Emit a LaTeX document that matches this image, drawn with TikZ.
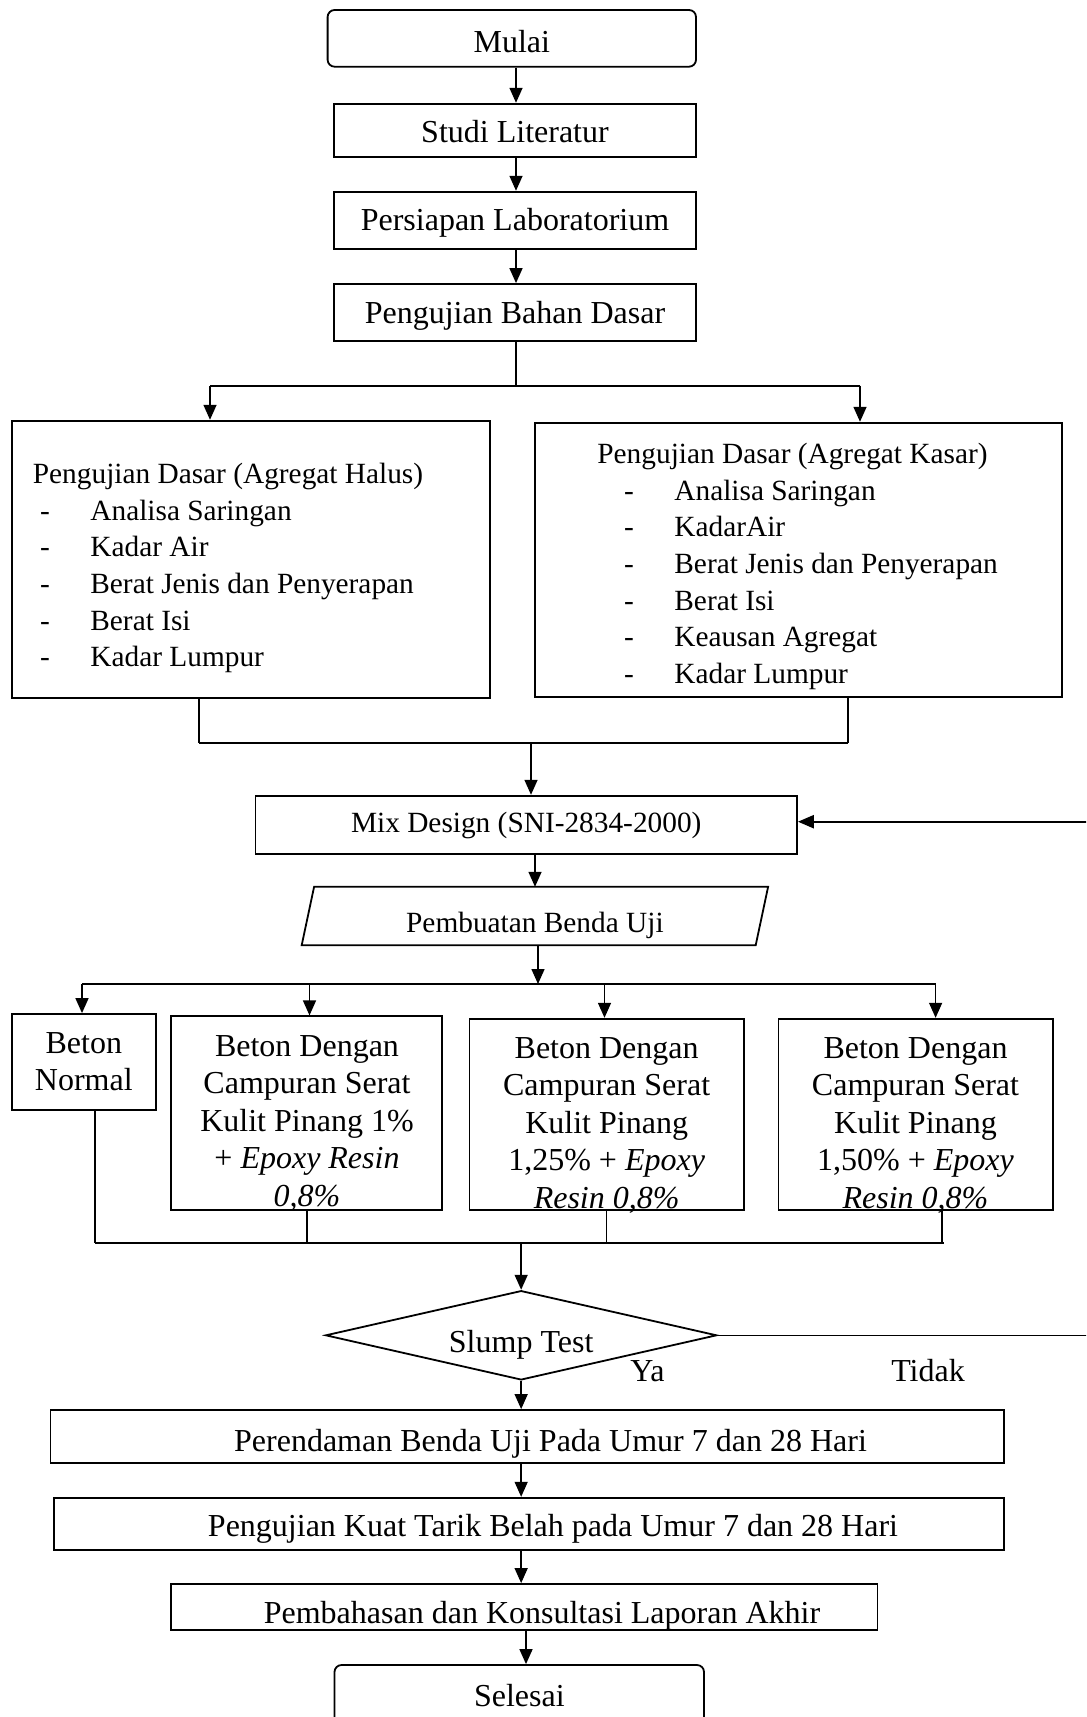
\documentclass[tikz,border=0pt]{standalone}
\usepackage{fontspec}
\setmainfont{Liberation Serif}
\usetikzlibrary{arrows.meta,shapes.geometric,calc}
\newcommand\fbig{\fontsize{16pt}{18.75pt}\selectfont}
\newcommand\fsmall{\fontsize{14.67pt}{18.35pt}\selectfont}
\begin{document}
\begin{tikzpicture}[x=0.5pt,y=-0.5pt,
  sz/.style 2 args={minimum width=#1*0.5pt, minimum height=#2*0.5pt},
  box/.style={draw, line width=0.9pt, inner sep=0pt, font=\fbig, text depth=0pt, text height=10.6pt},
  sbox/.style={box, font=\fsmall, text height=9.7pt},
  th/.style={text height=#1},
  arr/.style={line width=0.75pt, -{Triangle[length=7.5pt,width=6.5pt]}},
  ln/.style={line width=0.75pt},
  bl/.style={line width=0.9pt},
  txt/.style={inner sep=0pt, font=\fbig},
  stxt/.style={inner sep=0pt, font=\fsmall},
]
\clip (0,0) rectangle (1086,1717);
\fill[white] (0,0) rectangle (1086,1717);

% top chain
\node[box, rounded corners=3.5pt, sz={368.4}{56.7}, th=14pt] (mulai) at (511.8,38.35) {Mulai};
\node[box, sz={362}{53.3}, th=12.5pt] (studi) at (515,130.35) {Studi Literatur};
\node[box, sz={362}{57.3}, th=10.6pt] (lab) at (515,220.35) {Persiapan Laboratorium};
\node[box, sz={362}{56.7}, th=11.3pt] (dasar) at (515,312.35) {Pengujian Bahan Dasar};

% two test boxes
\node[box, sz={478.2}{277.6}] (halus) at (250.9,559.5) {};
\node[box, sz={527}{274}] (kasar) at (798.5,559.7) {};

\node[stxt, anchor=base west] (hh) at (32.5,483.3) {Pengujian Dasar (Agregat Halus)};
\foreach \t [count=\i] in {Analisa Saringan, Kadar Air, Berat Jenis dan Penyerapan, Berat Isi, Kadar Lumpur}{
  \node[stxt, anchor=base] (hd\i) at (45,{483.3+\i*36.7}) {-};
  \node[stxt, anchor=base west] (hi\i) at (90,{483.3+\i*36.7}) {\t};
}
\node[stxt, anchor=base west] (kh) at (597,463.3) {Pengujian Dasar (Agregat Kasar)};
\foreach \t [count=\i] in {Analisa Saringan, KadarAir, Berat Jenis dan Penyerapan, Berat Isi, Keausan Agregat, Kadar Lumpur}{
  \node[stxt, anchor=base] (kd\i) at (629,{463.3+\i*36.7}) {-};
  \node[stxt, anchor=base west] (ki\i) at (674,{463.3+\i*36.7}) {\t};
}

% mix design and specimen
\node[sbox, sz={541.5}{58.3}, th=8.1pt] (mix) at (526.25,824.85) {Mix Design (SNI-2834-2000)};
\node[sbox, draw=none, sz={452.2}{56.6}, th=16.2pt] (buat) at (534.9,916) {Pembuatan Benda Uji};
\draw[bl] ($(buat.north west)+(6.2,0)$) -- ($(buat.north east)+(6.2,0)$) -- ($(buat.south east)+(-6.2,0)$) -- ($(buat.south west)+(-6.2,0)$) -- cycle;

% concrete variants
\node[box, sz={144}{96}] (normal) at (83.8,1062) {};
\node[txt, anchor=base] (n1) at (83.8,1053.3) {Beton};
\node[txt, anchor=base] (n2) at (83.8,1090) {Normal};

\node[box, sz={271}{193.7}] (b2) at (306.5,1113.15) {};
\foreach \t [count=\i] in {Beton Dengan, Campuran Serat, Kulit Pinang 1\%, {+ \textit{Epoxy Resin}}, {\textit{0,8\%}}}
  \node[txt, anchor=base] (bt2\i) at (307,{1018.5+\i*37.5}) {\t};

\node[box, sz={274.3}{191.3}] (b3) at (606.65,1114.35) {};
\foreach \t [count=\i] in {Beton Dengan, Campuran Serat, Kulit Pinang, {1,25\% + \textit{Epoxy}}, {\textit{Resin 0,8\%}}}
  \node[txt, anchor=base] (bt3\i) at (606.65,{1020.8+\i*37.5}) {\t};

\node[box, sz={274.2}{191.3}] (b4) at (915.5,1114.35) {};
\foreach \t [count=\i] in {Beton Dengan, Campuran Serat, Kulit Pinang, {1,50\% + \textit{Epoxy}}, {\textit{Resin 0,8\%}}}
  \node[txt, anchor=base] (bt4\i) at (915.5,{1020.8+\i*37.5}) {\t};

% decision
\node[draw, bl, shape=diamond, aspect=4.38, inner sep=0pt, sz={391.3}{89.3}, font=\fbig, text height=17pt, text depth=0pt] (slump) at (521.15,1335.3) {Slump Test};
\node[txt, anchor=base] (ya) at (647.5,1381.7) {Ya};
\node[txt, anchor=base] (tidak) at (928,1381.7) {Tidak};

% bottom chain
\node[box, sz={953.5}{52.7}] (rendam) at (527.25,1436.35) {};
\node[txt, anchor=base] (rendamt) at (550.5,1451.7) {Perendaman Benda Uji Pada Umur 7 dan 28 Hari};
\node[box, sz={950}{52.3}] (kuat) at (529,1523.85) {};
\node[txt, anchor=base] (kuatt) at (553,1536.7) {Pengujian Kuat Tarik Belah pada Umur 7 dan 28 Hari};
\node[box, sz={706.4}{46}] (bahas) at (524.2,1607) {};
\node[txt, anchor=base] (bahast) at (542,1623.3) {Pembahasan dan Konsultasi Laporan Akhir};
\node[box, rounded corners=3.5pt, sz={369.5}{63}] (selesai) at (519.25,1696.5) {};
\node[txt, anchor=base] (selesait) at (519.4,1706.7) {Selesai};

% connectors: top
\coordinate (c516) at (516,0);
\draw[arr] (mulai.south -| c516) -- (studi.north -| c516);
\draw[arr] (studi.south -| c516) -- (lab.north -| c516);
\draw[arr] (lab.south -| c516) -- (dasar.north -| c516);
\coordinate (br1) at (516,385.7);
\coordinate (br1L) at (210,385.7);
\coordinate (br1R) at (860,385.7);
\draw[ln] (dasar.south -| c516) -- (br1);
\draw[bl] (br1L) -- (br1R);
\draw[arr] (br1L) -- (br1L |- halus.north);
\draw[arr] (br1R) -- (br1R |- kasar.north);

% collect tests
\coordinate (j1L) at (199,743.3);
\coordinate (j1R) at (848,743.3);
\coordinate (j1) at (531,743.3);
\draw[ln] (halus.south -| j1L) -- (j1L);
\draw[ln] (kasar.south -| j1R) -- (j1R);
\draw[bl] (j1L) -- (j1R);
\draw[arr] (j1) -- (mix.north -| j1);

% mix -> specimen -> variants
\coordinate (c535) at (535,0);
\draw[arr] (mix.south -| c535) -- (buat.north -| c535);
\coordinate (br2) at (538,984);
\draw[arr] (buat.south -| br2) -- (br2);
\coordinate (br2L) at (82,984);
\coordinate (br2R) at (935.6,984);
\coordinate (a2) at (309.5,984);
\coordinate (a3) at (604.5,984);
\draw[bl] (br2L) -- (br2R);
\draw[arr] (br2L) -- (br2L |- normal.north);
\draw[arr] (a2) -- (a2 |- b2.north);
\draw[arr] (a3) -- (a3 |- b3.north);
\draw[arr] (br2R) -- (br2R |- b4.north);

% collect variants
\coordinate (j2L) at (95,1243.3);
\coordinate (j2R) at (944,1243.3);
\coordinate (k2) at (306.8,1243.3);
\coordinate (k3) at (606.6,1243.3);
\coordinate (k4) at (941.8,1243.3);
\coordinate (j2) at (520.8,1243.3);
\draw[ln] (normal.south -| j2L) -- (j2L);
\draw[ln] (b2.south -| k2) -- (k2);
\draw[ln] (b3.south -| k3) -- (k3);
\draw[ln] (b4.south -| k4) -- (k4);
\draw[bl] (j2L) -- (j2R);
\draw[arr] (j2 -| slump.north) -- (slump.north);

% bottom connectors
\draw[arr] (slump.south) -- (rendam.north -| slump.south);
\draw[arr] (rendam.south -| slump.south) -- (kuat.north -| slump.south);
\draw[arr] (kuat.south -| slump.south) -- (bahas.north -| slump.south);
\coordinate (c526) at (526,0);
\draw[arr] (bahas.south -| c526) -- (selesai.north -| c526);

% feedback (Tidak)
\coordinate (fbR) at (1092,1335.3);
\coordinate (fbT) at (1092,821.7);
\draw[ln] (slump.east) -- (slump.east -| fbR);
\draw[line width=1.2pt, -{Triangle[length=8pt,width=6.5pt]}] (fbT) -- (fbT -| mix.east);
\end{tikzpicture}
\end{document}
